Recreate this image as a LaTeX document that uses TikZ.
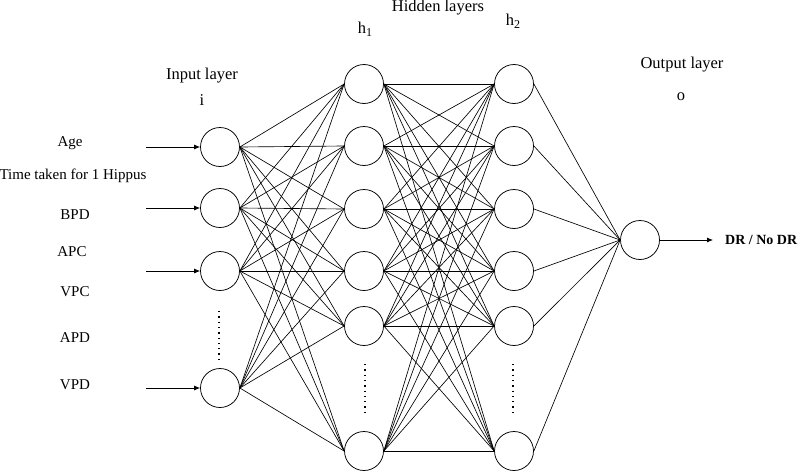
\documentclass[tikz,border=0pt]{standalone}
\usepackage{fontspec}
\setmainfont{Liberation Serif}
\usetikzlibrary{arrows.meta}
\begin{document}
\begin{tikzpicture}[x=1pt,y=-1pt,
  neuron/.style={circle,draw,line width=0.75pt,minimum size=39pt,inner sep=0pt},
  conn/.style={line width=0.65pt},
  inarrow/.style={line width=0.75pt,-{Latex[length=6pt,width=5pt]}},
  lbl/.style={font=\fontsize{15}{15}\selectfont,inner sep=0pt},
  ttl/.style={font=\fontsize{16.5}{16.5}\selectfont,inner sep=0pt},
  dotsline/.style={line width=1.3pt,dash pattern=on 1.3pt off 4pt}]
\useasboundingbox (0,0) rectangle (800,471);
% input layer
\node[neuron] (i1) at (220,147) {};
\node[neuron] (i2) at (220,208) {};
\node[neuron] (i3) at (220,271) {};
\node[neuron] (i4) at (220,388) {};
% hidden layers
\foreach \n/\y in {1/84,2/146,3/209,4/271,5/326,6/451}{
  \node[neuron] (a\n) at (364,\y) {};
  \node[neuron] (b\n) at (514,\y) {};
}
% output
\node[neuron] (o) at (640,240) {};
% connections
\foreach \s in {1,2,3,4}{
  \foreach \t in {1,...,6}{
    \draw[conn] (i\s.east) -- (a\t.west);
  }
}
\foreach \s in {1,...,6}{
  \foreach \t in {1,...,6}{
    \draw[conn] (a\s.east) -- (b\t.west);
  }
  \draw[conn] (b\s.east) -- (o.west);
}
% input arrows
\coordinate (s1) at (146,147);
\coordinate (s2) at (146,208);
\coordinate (s3) at (146,271);
\coordinate (s4) at (146,388);
\foreach \k in {1,2,3,4}{
  \draw[inarrow] (s\k) -- (i\k.west);
}
% output arrow
\coordinate (e) at (713,240);
\draw[inarrow] (o.east) -- (e);
\node[anchor=west,font=\fontsize{14}{14}\selectfont\bfseries,inner sep=0pt] (res) at (725,240) {DR / No DR};
% dots
\coordinate (d1a) at (219,311);
\coordinate (d1b) at (219,362);
\coordinate (d2a) at (365,364);
\coordinate (d2b) at (365,416);
\coordinate (d3a) at (513,364);
\coordinate (d3b) at (513,416);
\draw[dotsline] (d1a) -- (d1b);
\draw[dotsline] (d2a) -- (d2b);
\draw[dotsline] (d3a) -- (d3b);
% feature labels
\node[lbl] (lage) at (70,143) {Age};
\node[lbl] (ltime) at (73,176) {Time taken for 1 Hippus};
\node[lbl] (lbpd) at (75,215) {BPD};
\node[lbl] (lapc) at (72,252) {APC};
\node[lbl] (lvpc) at (75,292) {VPC};
\node[lbl] (lapd) at (75,338) {APD};
\node[lbl] (lvpd) at (75,385) {VPD};
% titles
\node[ttl] (tin) at (202,76) {Input layer};
\node[ttl] (ti) at (202,100) {i};
\node[ttl] (thid) at (438,8) {Hidden layers};
\node[ttl] (th1) at (365,29) {h\raisebox{-3pt}{\fontsize{12}{12}\selectfont 1}};
\node[ttl] (th2) at (513,21) {h\raisebox{-3pt}{\fontsize{12}{12}\selectfont 2}};
\node[ttl] (tout) at (682,65) {Output layer};
\node[ttl] (to) at (681,97) {o};
\end{tikzpicture}
\end{document}
